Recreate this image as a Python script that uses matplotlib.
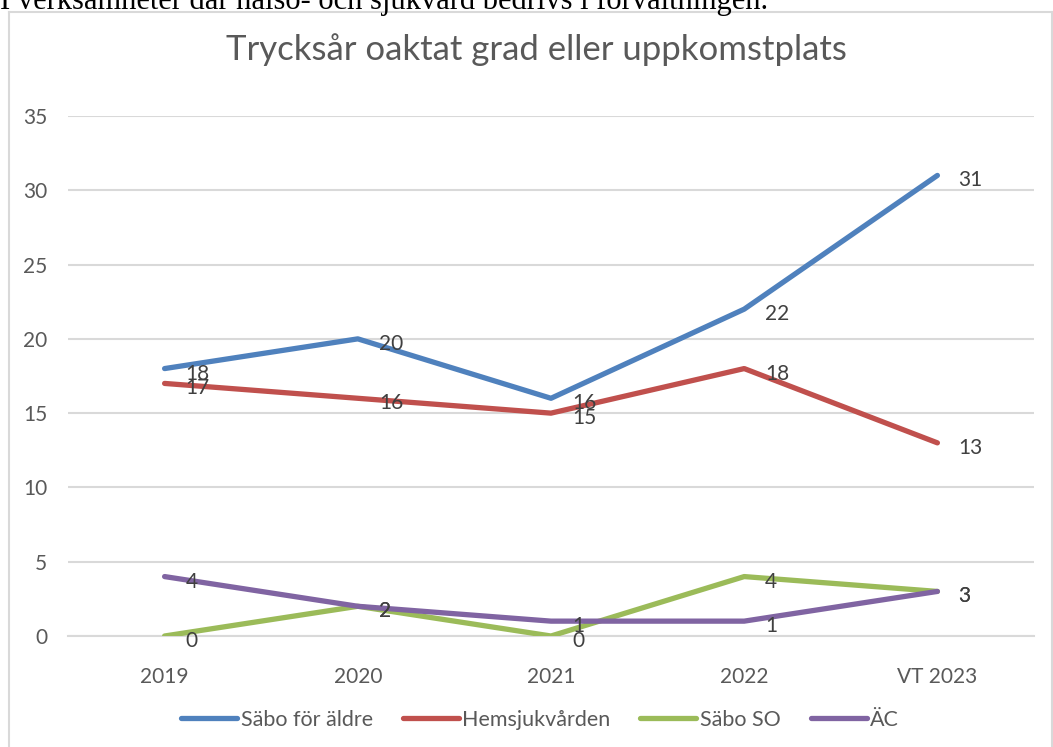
import matplotlib
matplotlib.use("Agg")
import matplotlib.pyplot as plt
from matplotlib.lines import Line2D

# Data
years = ["2019", "2020", "2021", "2022", "VT 2023"]
sabo_aldre = [18, 20, 16, 22, 31]
hemsjukvarden = [17, 16, 15, 18, 13]
sabo_so = [0, 2, 0, 4, 3]
ac = [4, 2, 1, 1, 3]

series = [
    ("Säbo för äldre", sabo_aldre, "#4F81BD"),
    ("Hemsjukvården", hemsjukvarden, "#C0504D"),
    ("Säbo SO", sabo_so, "#9BBB59"),
    ("ÄC", ac, "#8064A2"),
]

plt.rcParams["font.family"] = ["Lato", "DejaVu Sans"]
W, H = 1053, 747
fig = plt.figure(figsize=(W / 100, H / 100), dpi=100)

# cut-off document text above the chart
fig.text(0, 1 - 9 / H, "I verksamheter där hälso- och sjukvård bedrivs i förvaltningen.",
         family="Liberation Serif", fontsize=22, va="baseline", ha="left", color="black")

# chart frame
frame_col = "#d9d9d9"
fx0, fx1, fy1 = 9 / W, 1052 / W, 1 - 12 / H
for xs, ys in [([fx0, fx0], [-0.05, fy1]), ([fx0, fx1], [fy1, fy1]), ([fx1, fx1], [fy1, -0.05])]:
    fig.add_artist(Line2D(xs, ys, color=frame_col, lw=1.5, transform=fig.transFigure))

ax = fig.add_axes([68 / W, 1 - 636 / H, (1034 - 68) / W, (636 - 116) / H])
x = list(range(len(years)))

for name, vals, col in series:
    ax.plot(x, vals, color=col, lw=3.8, label=name, solid_capstyle="round",
            solid_joinstyle="round", zorder=3)

for name, vals, col in series:
    for xi, v in zip(x, vals):
        ax.annotate(str(v), (xi, v), xytext=(21, -5), textcoords="offset pixels",
                    ha="left", va="center", fontsize=15, color="#404040", zorder=4)

ax.set_xlim(-0.5, len(years) - 0.5)
ax.set_ylim(0, 35)
ax.set_yticks(range(0, 36, 5))
ax.set_xticks(x)
ax.set_xticklabels(years)
ax.grid(axis="y", color=frame_col, lw=1.5)
ax.set_axisbelow(True)
for s in ["top", "right", "left"]:
    ax.spines[s].set_visible(False)
ax.spines["bottom"].set_color(frame_col)
ax.spines["bottom"].set_linewidth(1.5)
ax.tick_params(length=0, labelsize=15, labelcolor="#595959")
ax.tick_params(axis="y", pad=15)
ax.tick_params(axis="x", pad=22)

fig.text(536 / W, 1 - 50 / H, "Trycksår oaktat grad eller uppkomstplats",
         ha="center", va="center", fontsize=25, color="#595959")

fig.legend(loc="center", bbox_to_anchor=(540 / W, 1 - 720 / H), ncol=4, frameon=False,
           fontsize=15.5, labelcolor="#595959", handlelength=2.6, handletextpad=0.15,
           columnspacing=1.4)

fig.savefig("out.png", dpi=100)
